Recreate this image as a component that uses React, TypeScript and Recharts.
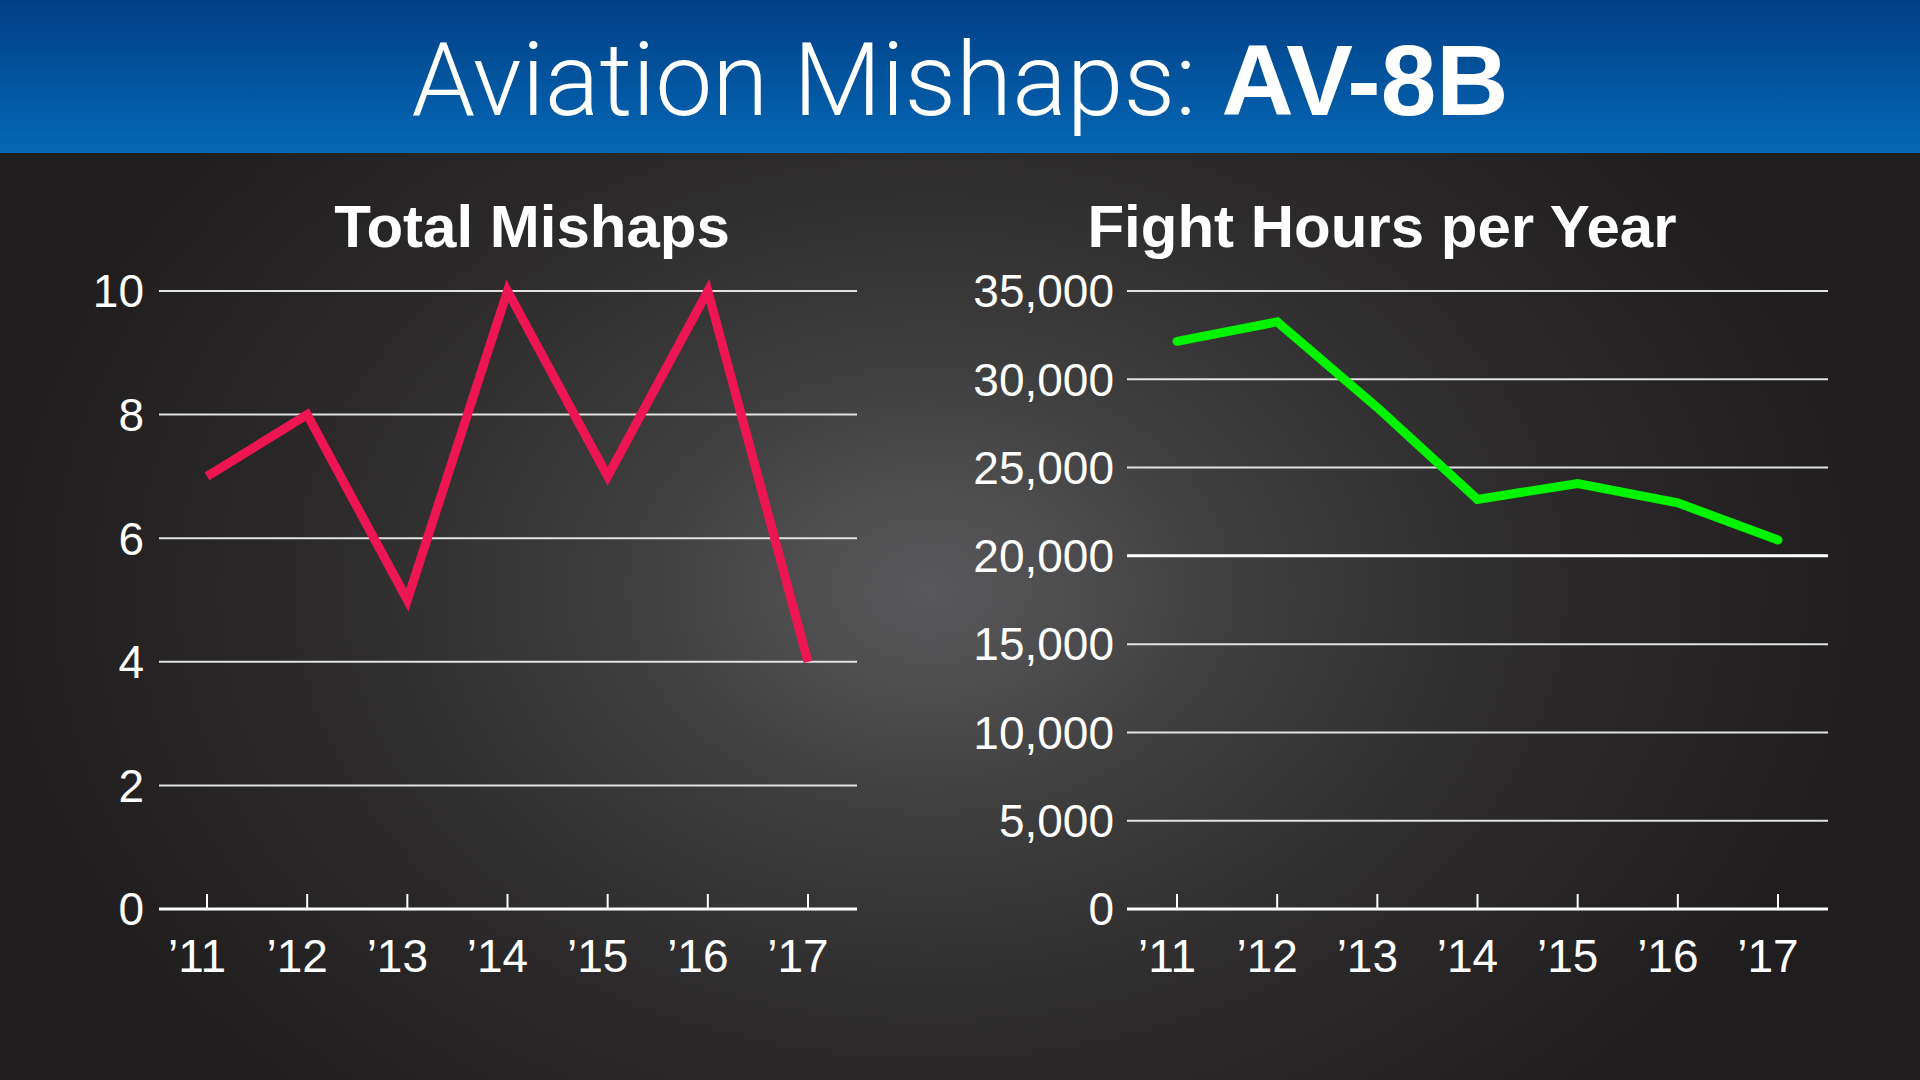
import React from 'react'
import { LineChart, Line, XAxis, YAxis, CartesianGrid, ReferenceLine } from 'recharts'

const years = ['’11', '’12', '’13', '’14', '’15', '’16', '’17']
const mishaps = [7, 8, 5, 10, 7, 10, 4]
const flightHours = [32150, 33250, 28400, 23200, 24100, 23000, 20900]
const mishapTicks = [0, 2, 4, 6, 8, 10]
const hourTicks = [0, 5000, 10000, 15000, 20000, 25000, 30000, 35000]

const mishapData = years.map((year, i) => ({ year, value: mishaps[i] }))
const hourData = years.map((year, i) => ({ year, value: flightHours[i] }))

const font = '"Liberation Sans", Arial, Helvetica, sans-serif'
const tickStyle = { fill: '#ffffff', fontSize: 46, fontFamily: font }
const xTickStyle = { ...tickStyle, dx: -10 }

export default function App() {
  return (
    <div
      style={{
        position: 'absolute',
        left: 0,
        top: 0,
        width: 1920,
        height: 1080,
        overflow: 'hidden',
        fontFamily: font,
        background:
          'radial-gradient(ellipse 950px 700px at 930px 590px, #59595b 0%, #3d3c3d 35%, #2a2829 68%, #1f1d1e 100%)',
      }}
    >
      <div
        style={{
          position: 'absolute',
          left: 0,
          top: 0,
          width: 1920,
          height: 153,
          background: 'linear-gradient(to bottom, #003f86 0%, #0567b4 100%)',
        }}
      />
      <div
        style={{
          position: 'absolute',
          left: 0,
          top: 29,
          width: 1920,
          textAlign: 'center',
          color: '#ffffff',
          fontSize: 102,
          lineHeight: '102px',
          whiteSpace: 'nowrap',
        }}
      >
        <span style={{ fontFamily: 'Roboto, sans-serif', fontWeight: 300 }}>Aviation Mishaps: </span>
        <span style={{ fontWeight: 700, fontSize: 100 }}>AV-8B</span>
      </div>

      <div style={{ position: 'absolute', left: 0, top: 197, width: 1064, textAlign: 'center', color: '#fff', fontSize: 60, lineHeight: '60px', fontWeight: 700 }}>
        Total Mishaps
      </div>
      <div style={{ position: 'absolute', left: 960, top: 197, width: 844, textAlign: 'center', color: '#fff', fontSize: 60, lineHeight: '60px', fontWeight: 700 }}>
        Fight Hours per Year
      </div>

      <div style={{ position: 'absolute', left: 0, top: 260 }}>
        <LineChart width={900} height={760} data={mishapData} margin={{ top: 31, right: 43, bottom: 31, left: 0 }}>
          <CartesianGrid horizontal vertical={false} stroke="#e2e2e2" strokeWidth={2} />
          <XAxis
            dataKey="year"
            padding={{ left: 48, right: 49 }}
            height={80}
            axisLine={{ stroke: '#ffffff', strokeWidth: 3 }}
            tickLine={{ stroke: '#ffffff', strokeWidth: 2 }}
            tickSize={-15}
            tickMargin={45}
            tick={xTickStyle}
            interval={0}
          />
          <YAxis
            domain={[0, 10]}
            ticks={mishapTicks}
            width={159}
            axisLine={false}
            tickLine={false}
            tickSize={0}
            tickMargin={15}
            tick={tickStyle}
            interval={0}
          />
          <Line
            type="linear"
            dataKey="value"
            stroke="#ee1652"
            strokeWidth={9}
            strokeLinejoin="miter"
            dot={false}
            isAnimationActive={false}
          />
        </LineChart>
      </div>

      <div style={{ position: 'absolute', left: 960, top: 260 }}>
        <LineChart width={900} height={760} data={hourData} margin={{ top: 31, right: 32, bottom: 31, left: 0 }}>
          <CartesianGrid horizontal vertical={false} stroke="#e2e2e2" strokeWidth={2} />
          <ReferenceLine y={20000} stroke="#ffffff" strokeWidth={3} />
          <XAxis
            dataKey="year"
            padding={{ left: 50, right: 50 }}
            height={80}
            axisLine={{ stroke: '#ffffff', strokeWidth: 3 }}
            tickLine={{ stroke: '#ffffff', strokeWidth: 2 }}
            tickSize={-15}
            tickMargin={45}
            tick={xTickStyle}
            interval={0}
          />
          <YAxis
            domain={[0, 35000]}
            ticks={hourTicks}
            width={167}
            axisLine={false}
            tickLine={false}
            tickSize={0}
            tickMargin={13}
            tick={tickStyle}
            interval={0}
            tickFormatter={(v: number) => v.toLocaleString('en-US')}
          />
          <Line
            type="linear"
            dataKey="value"
            stroke="#00f400"
            strokeWidth={9}
            strokeLinejoin="miter"
            strokeLinecap="round"
            dot={false}
            isAnimationActive={false}
          />
        </LineChart>
      </div>
    </div>
  )
}
